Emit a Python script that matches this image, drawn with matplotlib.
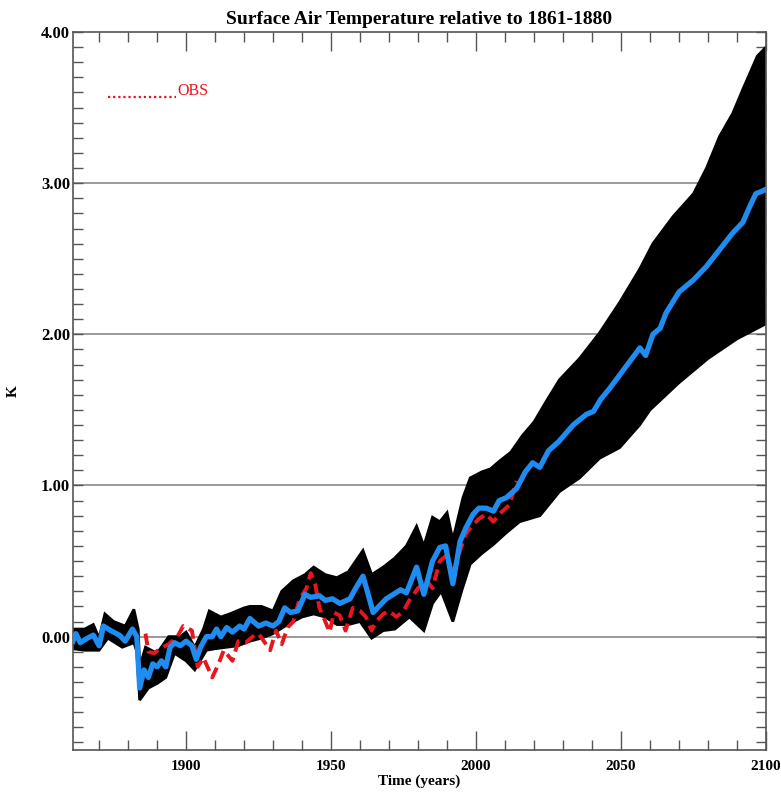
import matplotlib
matplotlib.use("Agg")
from matplotlib import pyplot as plt
from matplotlib.ticker import MultipleLocator, FormatStrFormatter

plt.rcParams['font.family'] = ['Liberation Serif', 'DejaVu Serif']
plt.rcParams['font.weight'] = 'bold'

# ensemble mean (blue)
mean_years = [1861, 1862, 1863.5, 1866, 1868, 1870, 1871.5, 1874, 1877, 1879, 1881.5, 1883, 1884,
              1885.5, 1887, 1888.5, 1890, 1891.5, 1893, 1894.5, 1896, 1898, 1900, 1902, 1903.5,
              1905, 1907, 1909, 1910.5, 1912, 1914, 1916, 1918.5, 1920, 1922, 1925, 1927.5, 1930,
              1932, 1934, 1936, 1938.5, 1941, 1943, 1946, 1948, 1950.5, 1953, 1956.5, 1958.5,
              1961, 1962.5, 1964.5, 1966, 1969, 1971.5, 1974, 1976, 1979.5, 1982, 1985, 1987.5,
              1989.5, 1992, 1994.5, 1996.5, 1999, 2001, 2003.5, 2006, 2008, 2010.5, 2014, 2017,
              2019.5, 2022, 2025, 2028.5, 2033.5, 2038, 2040.5, 2043, 2046, 2049.5, 2053, 2056.5,
              2058.5, 2061, 2063.5, 2065.5, 2070, 2075, 2079.5, 2084, 2088.5, 2092, 2094.5,
              2096.5, 2099, 2100]
mean_vals = [-0.03, 0.02, -0.04, -0.01, 0.01, -0.06, 0.07, 0.04, 0.01, -0.03, 0.05, 0.0, -0.34,
             -0.22, -0.27, -0.18, -0.2, -0.16, -0.2, -0.07, -0.04, -0.06, -0.03, -0.06, -0.15,
             -0.07, 0.0, 0.0, 0.05, 0.0, 0.06, 0.03, 0.07, 0.05, 0.12, 0.07, 0.09, 0.07,
             0.1, 0.19, 0.16, 0.17, 0.28, 0.26, 0.27, 0.24, 0.25, 0.22, 0.25, 0.32,
             0.4, 0.3, 0.16, 0.19, 0.25, 0.28, 0.31, 0.29, 0.46, 0.28, 0.5, 0.59,
             0.6, 0.35, 0.63, 0.72, 0.81, 0.85, 0.85, 0.83, 0.9, 0.92, 0.98, 1.09,
             1.15, 1.12, 1.23, 1.29, 1.4, 1.47, 1.49, 1.57, 1.64, 1.73, 1.82, 1.91,
             1.86, 2.0, 2.04, 2.14, 2.28, 2.36, 2.45, 2.56, 2.67, 2.74, 2.85,
             2.93, 2.95, 2.96]

# ensemble spread: upper and lower edge of the black members
upper_years = [1861, 1865, 1868, 1870, 1872, 1875, 1879, 1882, 1883.5, 1884, 1886, 1890, 1894,
               1898, 1900, 1903, 1906, 1908, 1912, 1915, 1920, 1922, 1926, 1930, 1933, 1937,
               1941, 1944, 1948, 1952, 1956, 1961, 1964, 1968, 1972, 1976, 1979.5, 1982, 1985,
               1987.5, 1990, 1992, 1995.5, 1998, 2002, 2005, 2008, 2012, 2016, 2020, 2024,
               2028.8, 2035.7, 2042.6, 2049.5, 2056.4, 2061, 2068, 2075, 2079.5, 2084, 2088.5,
               2092, 2097, 2100]
upper_vals = [0.05, 0.05, 0.08, -0.01, 0.15, 0.1, 0.07, 0.18, 0.05, -0.2, -0.07, -0.11, 0.0,
              0.0, 0.03, -0.07, 0.05, 0.17, 0.13, 0.15, 0.19, 0.2, 0.2, 0.17, 0.3, 0.37,
              0.41, 0.46, 0.41, 0.39, 0.43, 0.57, 0.41, 0.46, 0.52, 0.6, 0.73, 0.6, 0.79,
              0.76, 0.82, 0.64, 0.92, 1.05, 1.09, 1.11, 1.16, 1.22, 1.33, 1.42, 1.55,
              1.7, 1.84, 2.01, 2.21, 2.43, 2.6, 2.78, 2.93, 3.1, 3.31, 3.46,
              3.62, 3.84, 3.9]
lower_years = [1861, 1865, 1870, 1873, 1878, 1882, 1883, 1884, 1887, 1890, 1893, 1896, 1900,
               1903, 1907, 1910, 1914, 1918, 1922, 1926, 1930, 1935, 1940, 1944, 1948, 1952,
               1956, 1960, 1964, 1968, 1972, 1977, 1982, 1985, 1988, 1992, 1995, 1998, 2002,
               2006, 2010, 2015, 2022, 2028.8, 2035.7, 2042.6, 2049.5, 2056.4, 2060, 2070,
               2080, 2090, 2100]
lower_vals = [-0.08, -0.09, -0.09, -0.01, -0.07, -0.04, -0.1, -0.42, -0.34, -0.31, -0.27, -0.11,
              -0.16, -0.22, -0.09, -0.08, -0.07, -0.06, -0.03, -0.01, 0.02, 0.08, 0.13, 0.15,
              0.13, 0.08, 0.08, 0.1, -0.01, 0.04, 0.05, 0.13, 0.04, 0.22, 0.3, 0.1, 0.3,
              0.48, 0.55, 0.61, 0.68, 0.76, 0.8, 0.96, 1.05, 1.18, 1.25, 1.4, 1.5, 1.68,
              1.84, 1.97, 2.07]

# observations (red)
obs_years = [1886, 1887, 1889, 1891, 1894, 1897, 1899, 1901, 1902, 1904, 1906, 1909, 1911, 1913,
             1916, 1918, 1920.5, 1923, 1925, 1929, 1931, 1933, 1935, 1937, 1939, 1941.5, 1943,
             1944.5, 1946, 1948, 1949.5, 1951, 1953, 1955, 1957.5, 1960, 1962, 1964, 1965.5,
             1968, 1970, 1972.5, 1975, 1977, 1980, 1983, 1985, 1987.5, 1990, 1992, 1994.5,
             1996.5, 1999, 2001, 2003.5, 2006, 2008, 2011.5, 2014]
obs_vals = [0.02, -0.1, -0.11, -0.08, -0.05, 0.0, 0.07, 0.05, 0.04, -0.2, -0.14, -0.27, -0.19,
            -0.09, -0.16, -0.03, -0.04, 0.0, 0.02, -0.09, 0.04, -0.05, 0.06, 0.1, 0.24, 0.32,
            0.42, 0.35, 0.19, 0.1, 0.03, 0.16, 0.14, 0.04, 0.19, 0.17, 0.13, 0.04, 0.1,
            0.15, 0.17, 0.13, 0.17, 0.24, 0.32, 0.37, 0.32, 0.5, 0.54, 0.41, 0.57,
            0.68, 0.74, 0.78, 0.81, 0.76, 0.81, 0.87, 1.03]

fig = plt.figure(figsize=(7.81, 7.98), dpi=100)
ax = fig.add_axes([73 / 781, 48 / 798, 693 / 781, 718 / 798])

ax.set_xlim(1861, 2100)
ax.set_ylim(-0.75, 4.0)

for g in [0, 1, 2, 3]:
    ax.axhline(g, color='#9a9a9a', lw=1.4, zorder=1)

# black ensemble envelope
ax.fill(upper_years + lower_years[::-1], upper_vals + lower_vals[::-1],
        color='black', lw=2, zorder=2)

ax.plot(obs_years, obs_vals, color='#e8161c', lw=2.8, linestyle=(0, (3, 1.6)), zorder=3)
ax.plot(mean_years, mean_vals, color='#1e8cf0', lw=3.8, zorder=4)

# legend entry, IDL style
ax.plot([1873, 1896.5], [3.57, 3.57], color='#e8161c', lw=1.6, linestyle=(0, (1, 1.3)),
        zorder=5)
ax.text(1897, 3.56, 'OBS', color='#e8161c', fontsize=11.5, fontweight='normal',
        va='bottom', ha='left')

ax.set_title('Surface Air Temperature relative to 1861-1880', fontsize=14,
             fontweight='bold', pad=6)
ax.set_xlabel('Time (years)', fontsize=11, fontweight='bold', labelpad=1)
ax.set_ylabel('K', fontsize=11, fontweight='bold')
ax.yaxis.set_label_coords(-0.077, 0.5)

ax.xaxis.set_major_locator(MultipleLocator(50))
ax.xaxis.set_minor_locator(MultipleLocator(10))
ax.yaxis.set_major_locator(MultipleLocator(1))
ax.yaxis.set_minor_locator(MultipleLocator(0.1))
ax.yaxis.set_major_formatter(FormatStrFormatter('%.2f'))

ax.tick_params(axis='both', which='both', direction='in', top=True, right=True,
               color='#555555')
ax.tick_params(axis='x', which='major', length=14, width=1, pad=7, labelsize=11)
ax.tick_params(axis='x', which='minor', length=7, width=1)
ax.tick_params(axis='y', which='both', length=7, width=1, pad=2, labelsize=12)

for s in ax.spines.values():
    s.set_color('#555555')
    s.set_linewidth(1.2)

fig.savefig('out.png', dpi=100)
